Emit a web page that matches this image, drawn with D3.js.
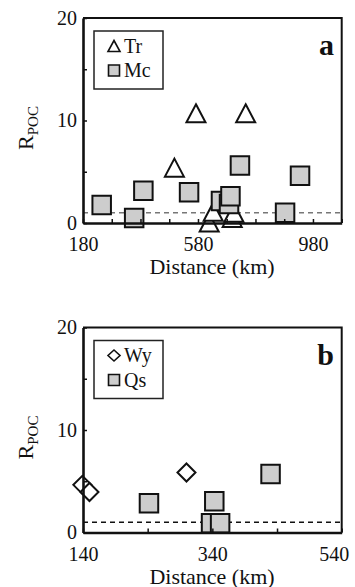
<!DOCTYPE html>
<html>
<head>
<meta charset="utf-8">
<script src="https://cdn.jsdelivr.net/npm/d3@7"></script>
<style>
  body { margin: 0; background: #fff; }
</style>
</head>
<body>
<div id="chart"></div>
<script>
// panel a: Tr (triangles) and Mc (squares)
const trDist = [498, 573, 619, 633, 699, 705, 746];
const trR = [5.4, 10.7, 0.05, 1.1, 0.5, 1.0, 10.7];
const mcDist = [245, 358, 390, 549, 660, 688, 693, 726, 883, 935];
const mcR = [1.75, 0.5, 3.15, 3.0, 2.15, 1.85, 2.6, 5.6, 1.0, 4.6];
// panel b: Wy (diamonds) and Qs (squares)
const wyDist = [139, 150, 300];
const wyR = [4.65, 3.95, 5.85];
const qsDist = [242, 338, 343, 352, 430];
const qsR = [2.85, 0.9, 3.05, 0.9, 5.7];

const yTicks = [0, 5, 10, 15, 20];
const yTickLabels = [0, 10, 20];
const xTicksA = [180, 280, 380, 480, 580, 680, 780, 880, 980, 1080];
const xTickLabelsA = [180, 580, 980];
const xTicksB = [140, 240, 340, 440, 540];
const xTickLabelsB = [140, 340, 540];

const serif = "Liberation Serif";

const svg = d3.select("#chart").append("svg")
  .attr("width", 355)
  .attr("height", 587)
  .attr("font-family", serif);

function shape(kind, w, h) {
  if (kind == "tri") return `M0,${-h/2}L${w/2},${h/2}L${-w/2},${h/2}Z`;
  if (kind == "dia") return `M0,${-h/2}L${w/2},0L0,${h/2}L${-w/2},0Z`;
  return `M${-w/2},${-h/2}H${w/2}V${h/2}H${-w/2}Z`;
}

function drawPanel(p) {
  const g = svg.append("g").attr("transform", `translate(0,${p.top})`);
  const x = d3.scaleLinear().domain(p.xDomain).range([83, 341.7]);
  const y = d3.scaleLinear().domain([0, 20]).range([205, 0]);

  // frame top + right
  g.append("path")
    .attr("d", `M83,${y(20)}H341.7V${y(0)}`)
    .attr("fill", "none").attr("stroke", "#111").attr("stroke-width", 2);

  // reference line at R = 1
  g.append("line")
    .attr("x1", x(p.xDomain[0])).attr("x2", x(p.xDomain[1]))
    .attr("y1", y(1)).attr("y2", y(1))
    .attr("stroke", p.dashColor).attr("stroke-width", 1.4)
    .attr("stroke-dasharray", "5,4");

  // markers
  p.series.forEach(s => {
    s.dist.forEach((d, i) => {
      g.append("path")
        .attr("d", shape(s.kind, s.w, s.h))
        .attr("transform", `translate(${x(d)},${y(s.vals[i])})`)
        .attr("fill", s.fill)
        .attr("stroke", "#111")
        .attr("stroke-width", 2);
    });
  });

  // axes
  const xAxis = d3.axisBottom(x).tickValues(p.xTicks)
    .tickSizeInner(-4).tickSizeOuter(0).tickPadding(14)
    .tickFormat(d => p.xLabels.includes(d) ? d : "");
  const ax = g.append("g").attr("transform", `translate(0,${y(0)})`).call(xAxis)
    .attr("font-family", serif).attr("font-size", 20);
  ax.select(".domain").attr("stroke", "#111").attr("stroke-width", 2.6);
  ax.selectAll(".tick line").attr("stroke", "#111").attr("stroke-width", 1.5);
  ax.selectAll("text").attr("fill", "#111")
    .attr("dx", d => d == p.xDomain[1] && p.xLabels.includes(d) ? -8 : 0);

  const yAxis = d3.axisLeft(y).tickValues(yTicks)
    .tickSizeInner(-4).tickSizeOuter(0).tickPadding(6)
    .tickFormat(d => yTickLabels.includes(d) ? d : "");
  const ay = g.append("g").attr("transform", "translate(83,0)").call(yAxis)
    .attr("font-family", serif).attr("font-size", 20);
  ay.select(".domain").attr("stroke", "#111").attr("stroke-width", 2.6);
  ay.selectAll(".tick line").attr("stroke", "#111").attr("stroke-width", 1.5);
  ay.selectAll("text").attr("fill", "#111");

  // axis titles
  g.append("text")
    .attr("x", 212).attr("y", 256)
    .attr("text-anchor", "middle")
    .attr("font-size", 22).attr("fill", "#111")
    .text("Distance (km)");
  const yl = g.append("text")
    .attr("transform", "translate(33,110) rotate(-90)")
    .attr("text-anchor", "middle")
    .attr("font-size", 22).attr("fill", "#111");
  yl.append("tspan").text("R");
  yl.append("tspan").attr("dy", 5).attr("font-size", 15).text("POC");

  // panel letter
  g.append("text")
    .attr("x", 334).attr("y", 37)
    .attr("text-anchor", "end")
    .attr("font-size", 30).attr("font-weight", "bold").attr("fill", "#111")
    .text(p.letter);

  // legend
  g.append("rect")
    .attr("x", 94).attr("y", 13).attr("width", 69).attr("height", 58)
    .attr("fill", "#fff").attr("stroke", "#222").attr("stroke-width", 1.5);
  p.series.forEach((s, i) => {
    const ly = 28 + i * 24.5;
    g.append("path")
      .attr("d", shape(s.kind, s.kind == "sq" ? 11 : 12, 11))
      .attr("transform", `translate(114,${ly})`)
      .attr("fill", s.fill).attr("stroke", "#111").attr("stroke-width", 1.6);
    g.append("text")
      .attr("x", 124).attr("y", ly + 6.5)
      .attr("font-size", 20).attr("fill", "#111")
      .text(s.name);
  });
}

drawPanel({
  top: 18, letter: "a", xDomain: [180, 1080], xTicks: xTicksA, xLabels: xTickLabelsA,
  dashColor: "#777",
  series: [
    {name: "Tr", kind: "tri", dist: trDist, vals: trR, fill: "#fff", w: 19, h: 18},
    {name: "Mc", kind: "sq", dist: mcDist, vals: mcR, fill: "#cdcdcd", w: 18.5, h: 18.5}
  ]
});

drawPanel({
  top: 327.5, letter: "b", xDomain: [140, 540], xTicks: xTicksB, xLabels: xTickLabelsB,
  dashColor: "#111",
  series: [
    {name: "Wy", kind: "dia", dist: wyDist, vals: wyR, fill: "#fff", w: 18, h: 18},
    {name: "Qs", kind: "sq", dist: qsDist, vals: qsR, fill: "#cdcdcd", w: 18.5, h: 18.5}
  ]
});
</script>
</body>
</html>
